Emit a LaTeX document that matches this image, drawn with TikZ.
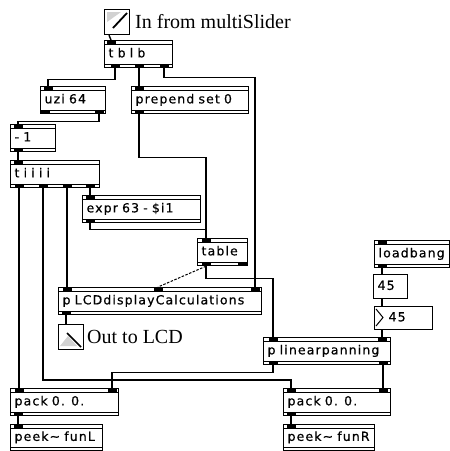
\documentclass[tikz,border=0pt]{standalone}
\usepackage{fontspec}
\setmainfont{Liberation Serif}
\newfontfamily\maxfont[LetterSpace=9, WordSpace=1.5, FakeBold=0.6]{DejaVu Sans}
\usetikzlibrary{calc}

\tikzset{
  obj/.style={draw, line width=1.2pt, fill=white, anchor=north west,
    inner xsep=4pt, inner ysep=0pt, minimum height=27pt, align=left,
    font=\maxfont\fontsize{12.5}{14}\selectfont, text height=9pt, text depth=2.5pt,
    execute at begin node=\hbox\bgroup, execute at end node=\egroup,
    path picture={
      \draw[line width=0.7pt]
        ([yshift=-3.5pt]path picture bounding box.north west) -- ([yshift=-3.5pt]path picture bounding box.north east)
        ([yshift=3.5pt]path picture bounding box.south west) -- ([yshift=3.5pt]path picture bounding box.south east);}},
  msg/.style={draw, line width=1.2pt, fill=white, anchor=north west,
    inner xsep=4pt, inner ysep=0pt, align=left,
    font=\maxfont\fontsize{12.5}{14}\selectfont, text height=9pt, text depth=2.5pt,
    execute at begin node=\hbox\bgroup, execute at end node=\egroup},
  icon/.style={draw, line width=1.2pt, anchor=north west, minimum size=25pt, inner sep=0pt},
  cmt/.style={anchor=base west, inner sep=0pt, font=\fontsize{20}{24}\selectfont},
  wire/.style={line width=1.4pt},
}

% inlets and outlets of a box: #2 and #3 are offsets from its left side
\newcommand\ports[3]{%
  \foreach \x [count=\k] in {#2}{%
    \fill ([xshift=\x pt-4.5pt]#1.north west) rectangle ++(9,3.5);
    \coordinate (#1-i\k) at ([xshift=\x pt]#1.north west);}
  \foreach \x [count=\k] in {#3}{%
    \fill ([xshift=\x pt-4.5pt]#1.south west) rectangle ++(9,-3.5);
    \coordinate (#1-o\k) at ([xshift=\x pt]#1.south west);}%
}

\begin{document}
\begin{tikzpicture}[x=1pt, y=-1pt]
            \useasboundingbox (0,0) rectangle (450,451);
            \node[icon] (slider) at (104,9) {};
            \fill[gray!35] (107,12) -- (121,12) -- (107,22) -- cycle;
            \draw[line width=1.8pt] (113,28) -- (127,13);
            \node[cmt] (inlabel) at (135,28) {In from multiSlider};

            \node[obj, text width=60pt] (tblb) at (104,40) {t b l b};
            \node[obj, text width=57pt] (uzi) at (40,86) {uzi 64};
            \node[obj, text width=109pt] (prepend) at (131,86) {prepend set 0};
            \node[obj, text width=37pt] (minus) at (10,124) {- 1};
            \node[obj, text width=81pt] (tiiii) at (10,160) {t i i i i};
            \node[obj, text width=110pt] (expr) at (82,195) {expr 63 - \$i1};
            \node[obj, text width=42pt] (table) at (197,238) {table};
            \node[obj, text width=195pt] (plcd) at (58,287) {p LCDdisplayCalculations};
            \node[icon] (lcdout) at (58,324) {};
            \fill[gray!35] (60,346) -- (77,346) -- (68,336) -- cycle;
            \draw[line width=1.5pt] (67,333) -- (81,347);
            \node[cmt] (outlabel) at (87,343) {Out to LCD};

            \node[obj, text width=67pt] (loadbang) at (374,240) {loadbang};
            \node[msg, text width=26pt, minimum height=24pt] (msg) at (373,274) {45};
            \node[msg, text width=50pt, minimum height=23pt] (num) at (374,306) {\hspace*{10pt}45};
            \draw[line width=1pt] (376,309) -- (383,317.5) -- (376,326);
            \node[obj, text width=119pt] (plin) at (263,337) {p linearpanning};

            \node[obj, text width=100pt] (packL) at (10,388) {pack 0. 0.};
            \node[obj, text width=99pt] (packR) at (283,388) {pack 0. 0.};
            \node[obj, text width=84pt, minimum height=26pt] (peekL) at (10,424) {peek\textasciitilde\ funL};
            \node[obj, text width=83pt, minimum height=26pt] (peekR) at (283,424) {peek\textasciitilde\ funR};

            \ports{tblb}{7}{11,35,60}
            \ports{uzi}{8}{5,59}
            \ports{prepend}{8}{8}
            \ports{minus}{8}{8}
            \ports{tiiii}{8}{9,33,57,80}
            \ports{expr}{8}{8}
            \ports{table}{9}{9,45}
            \ports{plcd}{9,100,197}{8}
            \ports{loadbang}{8}{8}
            \ports{plin}{10,119}{10,120}
            \ports{packL}{9,102}{8}
            \ports{packR}{8,100}{8}
            \ports{peekL}{8}{}
            \ports{peekR}{8}{}

            \draw[wire] ([xshift=5pt]slider.south west) -- (tblb-i1);
            \draw[wire] (tblb-o1) -- ++(0,11) -| (uzi-i1);
            \draw[wire] (tblb-o2) -- (prepend-i1);
            \draw[wire] (tblb-o3) -- ++(0,9) -| (plcd-i3);
            \draw[wire] (uzi-o2) -- ++(0,7) -| (minus-i1);
            \draw[wire] (minus-o1) -- (tiiii-i1);
            \draw[wire] (tiiii-o1) -- (packL-i1);
            \draw[wire] (tiiii-o2) |- ([yshift=8pt]packR-i1) -- (packR-i1);
            \draw[wire] (tiiii-o3) -- (plcd-i1);
            \draw[wire] (tiiii-o4) -- (expr-i1);
            \draw[wire] (expr-o1) -- ++(0,6) -| (table-i1);
            \draw[wire] (prepend-o1) -- ++(0,43) -| (table-i1);
            \draw[wire, line width=1pt, dash pattern=on 2.5pt off 1.5pt] (table-o1) -- (plcd-i2);
            \draw[wire] (table-o1) -- ++(0,12) -| (plin-i1);
            \draw[wire] (plcd-o1) -- ([xshift=8pt]lcdout.north west);
            \draw[wire] (loadbang-o1) -- (loadbang-o1 |- msg.north);
            \draw[wire] (loadbang-o1 |- msg.south) -- (loadbang-o1 |- num.north);
            \draw[wire] (loadbang-o1 |- num.south) -- (plin-i2);
            \draw[wire] (plin-o1) -- ++(0,7) -| (packL-i2);
            \draw[wire] (plin-o2) -- (packR-i2);
            \draw[wire] (packL-o1) -- (peekL-i1);
            \draw[wire] (packR-o1) -- (peekR-i1);
        \end{tikzpicture}
\end{document}
